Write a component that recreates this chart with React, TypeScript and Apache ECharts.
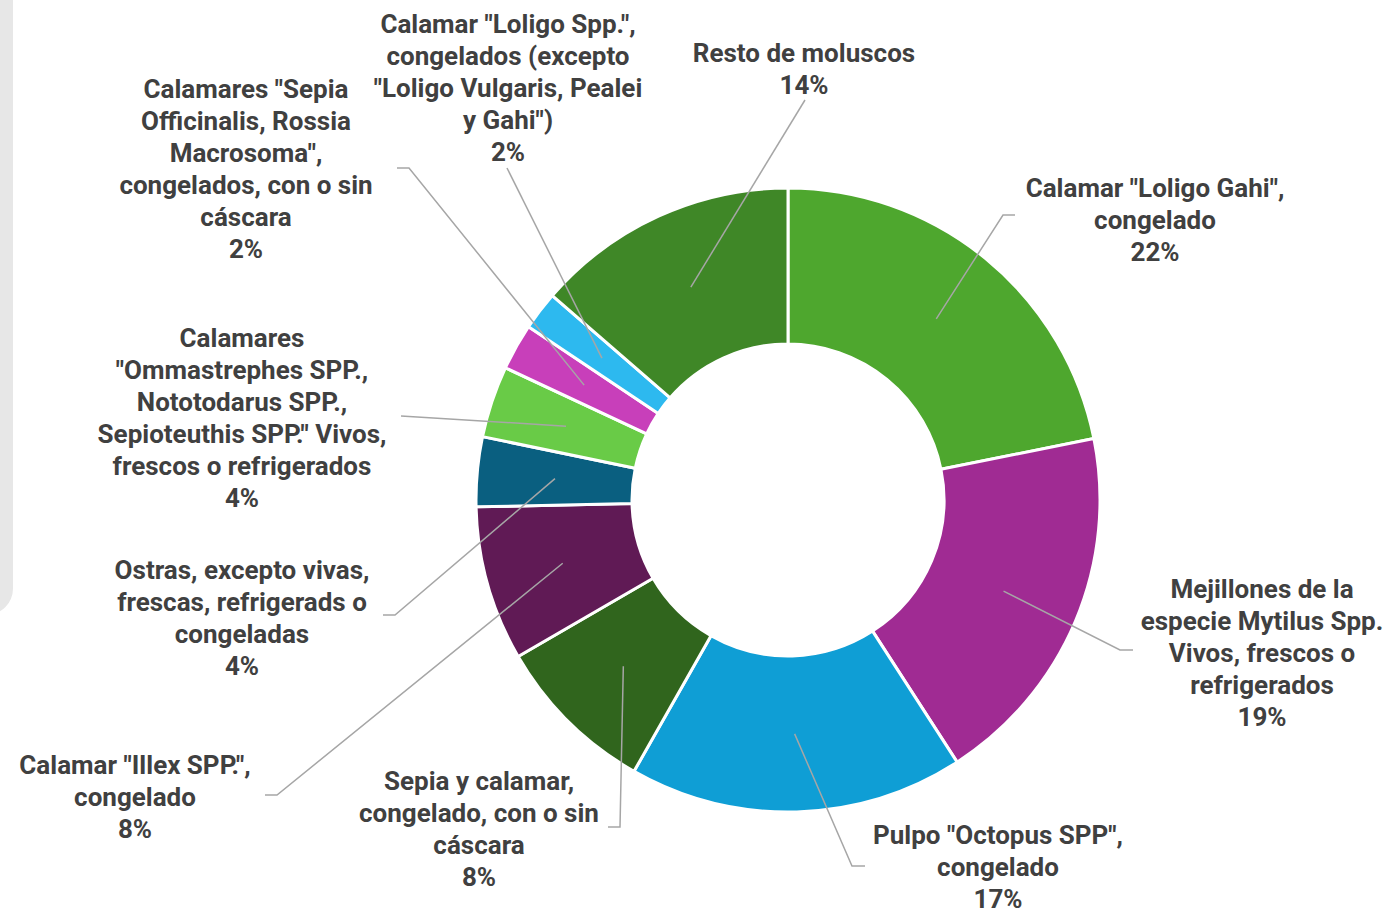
import React, { useEffect, useRef } from "react";
import * as echarts from "echarts";

const categories = [
  'Calamar "Loligo Gahi",\ncongelado',
  "Mejillones de la\nespecie Mytilus Spp.\nVivos, frescos o\nrefrigerados",
  'Pulpo "Octopus SPP",\ncongelado',
  "Sepia y calamar,\ncongelado, con o sin\ncáscara",
  'Calamar "Illex SPP.",\ncongelado',
  "Ostras, excepto vivas,\nfrescas, refrigerads o\ncongeladas",
  'Calamares\n"Ommastrephes SPP.,\nNototodarus SPP.,\nSepioteuthis SPP." Vivos,\nfrescos o refrigerados',
  'Calamares "Sepia\nOfficinalis, Rossia\nMacrosoma",\ncongelados, con o sin\ncáscara',
  'Calamar "Loligo Spp.",\ncongelados (excepto\n"Loligo Vulgaris, Pealei\ny Gahi")',
  "Resto de moluscos",
];

const values = [21.8, 19.0, 17.3, 8.4, 8.0, 3.6, 3.7, 2.4, 2.0, 13.6];

const colors = [
  "#4EA72E",
  "#A02B93",
  "#0F9ED5",
  "#30651D",
  "#601A55",
  "#0A5F80",
  "#69CB47",
  "#C83FBA",
  "#2DB9EF",
  "#3F8727",
];

// label placement: center x, top y, and leader-line points after the slice anchor
const labelPlacement = [
  { x: 1155, y: 172, line: [[1003, 215], [1015, 215]] },
  { x: 1262, y: 573, line: [[1120, 650], [1133, 650]] },
  { x: 998, y: 819, line: [[852, 866], [865, 866]] },
  { x: 479, y: 765, line: [[620, 827], [608, 827]] },
  { x: 135, y: 749, line: [[277, 795], [265, 795]] },
  { x: 242, y: 554, line: [[395, 615], [383, 615]] },
  { x: 242, y: 322, line: [[401, 416]] },
  { x: 246, y: 73, line: [[409, 168], [397, 168]] },
  { x: 508, y: 8, line: [[507, 168]] },
  { x: 804, y: 37, line: [[805, 100]] },
];

const CX = 788;
const CY = 500;
const R0 = 156;
const R = 312;

export default function App() {
  const ref = useRef<HTMLDivElement>(null);
  useEffect(() => {
    if (!ref.current) return;
    const chart = echarts.init(ref.current, null, { renderer: "svg" });
    const ratio = (R0 + R) / (2 * R);
    const common = {
      type: "pie",
      center: [CX, CY],
      radius: [R0, R],
      startAngle: 90,
      clockwise: true,
      avoidLabelOverlap: false,
    };
    chart.setOption({
      animation: false,
      backgroundColor: "#FFFFFF",
      graphic: [
        {
          type: "rect",
          z: -1,
          shape: { x: -40, y: -40, width: 53, height: 655, r: 36 },
          style: { fill: "#E7E7E7" },
        },
      ],
      series: [
        {
          ...common,
          z: 2,
          itemStyle: { borderColor: "#FFFFFF", borderWidth: 3 },
          label: { show: false },
          labelLine: { show: false },
          data: categories.map((name, i) => ({
            name,
            value: values[i],
            itemStyle: { color: colors[i] },
          })),
        },
        {
          ...common,
          z: 5,
          silent: true,
          itemStyle: { color: "rgba(0,0,0,0)", borderWidth: 0 },
          label: {
            show: true,
            position: "outside",
            formatter: (p: any) => `${p.name}\n${Math.round(p.percent)}%`,
            fontFamily: "Roboto",
            fontWeight: "bold",
            fontSize: 26,
            lineHeight: 32,
            color: "#404040",
            align: "center",
          },
          labelLine: {
            show: true,
            showAbove: true,
            lineStyle: { color: "#A6A6A6", width: 1.5 },
          },
          labelLayout: (params: any) => {
            const i = params.dataIndex;
            const L = labelPlacement[i];
            const pts = params.labelLinePoints;
            let start: number[];
            if (pts && pts[0]) {
              start = [CX + (pts[0][0] - CX) * ratio, CY + (pts[0][1] - CY) * ratio];
            } else {
              start = [CX, CY];
            }
            return {
              x: L.x,
              y: L.y,
              align: "center",
              verticalAlign: "top",
              labelLinePoints: [start, ...L.line],
            };
          },
          data: categories.map((name, i) => ({
            name,
            value: values[i],
          })),
        },
      ],
    });
    return () => chart.dispose();
  }, []);
  return (
    <div
      ref={ref}
      style={{ position: "absolute", left: 0, top: 0, width: 1386, height: 913 }}
    />
  );
}
